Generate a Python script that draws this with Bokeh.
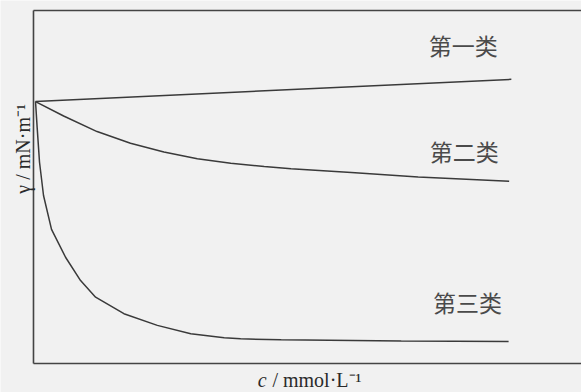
import math
from bokeh.plotting import figure
from bokeh.models import Range1d, Label
from bokeh.embed import file_html
from bokeh.resources import INLINE

# ---- data (arbitrary units) ----
class_names = ["第一类", "第二类", "第三类"]

c1 = [0.37, 87.2]
g1 = [74.2, 80.5]

c2 = [0.37, 5.5, 11.6, 17.7, 23.8, 29.9, 36.0, 42.1, 47.0, 58.0, 70.2, 86.8]
g2 = [74.2, 70.1, 65.7, 62.4, 59.9, 58.0, 56.7, 55.8, 55.2, 54.1, 52.8, 51.6]

c3 = [0.37, 0.68, 1.10, 1.83, 3.29, 5.85, 8.59, 11.33, 16.5, 22.6, 28.7,
      34.8, 37.8, 45.2, 67.1, 86.7]
g3 = [74.2, 66.6, 57.0, 47.6, 38.0, 30.1, 23.5, 18.8, 14.1, 10.8, 8.4,
      7.3, 7.0, 6.7, 6.4, 6.2]

x_label_c = "c"
x_label_rest = "/ mmol·L⁻¹"
y_label = "γ / mN·m⁻¹"

# box (axis frame) in data units
BOX_X0, BOX_X1 = 0.0, 100.0
BOX_Y0, BOX_Y1 = 0.0, 100.0

BG = "#f1f1f1"
INK = "#3a3a3a"
W, H = 581, 392

p = figure(width=W, height=H, output_backend="svg", toolbar_location=None,
           x_range=Range1d(-6.02, 100.0), y_range=Range1d(-8.215, 102.83),
           min_border=0)
p.background_fill_color = BG
p.border_fill_color = BG
p.outline_line_color = None
p.grid.visible = False
p.xaxis.visible = False
p.yaxis.visible = False

# frame: left, bottom and top edges (the right edge lies beyond the picture)
p.segment(x0=[BOX_X0, BOX_X0, BOX_X0], y0=[BOX_Y0, BOX_Y0, BOX_Y1],
          x1=[BOX_X0, BOX_X1, BOX_X1], y1=[BOX_Y1, BOX_Y0, BOX_Y1],
          line_color="#444444", line_width=1.6)

for cx, gy in [(c1, g1), (c2, g2), (c3, g3)]:
    p.line(cx, gy, line_color=INK, line_width=1.5)

label_pos = [(78.4, 90.3), (78.6, 60.3), (79.2, 17.5)]
for name, (lx, ly) in zip(class_names, label_pos):
    p.add_layout(Label(x=lx, y=ly, text=name, text_align="center",
                       text_baseline="middle", text_font="Noto Sans CJK SC",
                       text_font_size="23px", text_color="#4a4a4a"))

p.add_layout(Label(x=-2.0, y=60.8, text=y_label, angle=math.pi / 2,
                   text_align="center", text_baseline="middle",
                   text_font="Liberation Serif", text_font_size="20px",
                   text_color="#2a2a2a"))

p.add_layout(Label(x=40.9, y=-4.8, text=x_label_c, text_align="left",
                   text_baseline="middle", text_font="Liberation Serif",
                   text_font_style="italic", text_font_size="20px",
                   text_color="#2a2a2a"))
p.add_layout(Label(x=43.6, y=-4.8, text=x_label_rest, text_align="left",
                   text_baseline="middle", text_font="Liberation Serif",
                   text_font_size="20px", text_color="#2a2a2a"))

open("out.html", "w").write(file_html(p, INLINE))
